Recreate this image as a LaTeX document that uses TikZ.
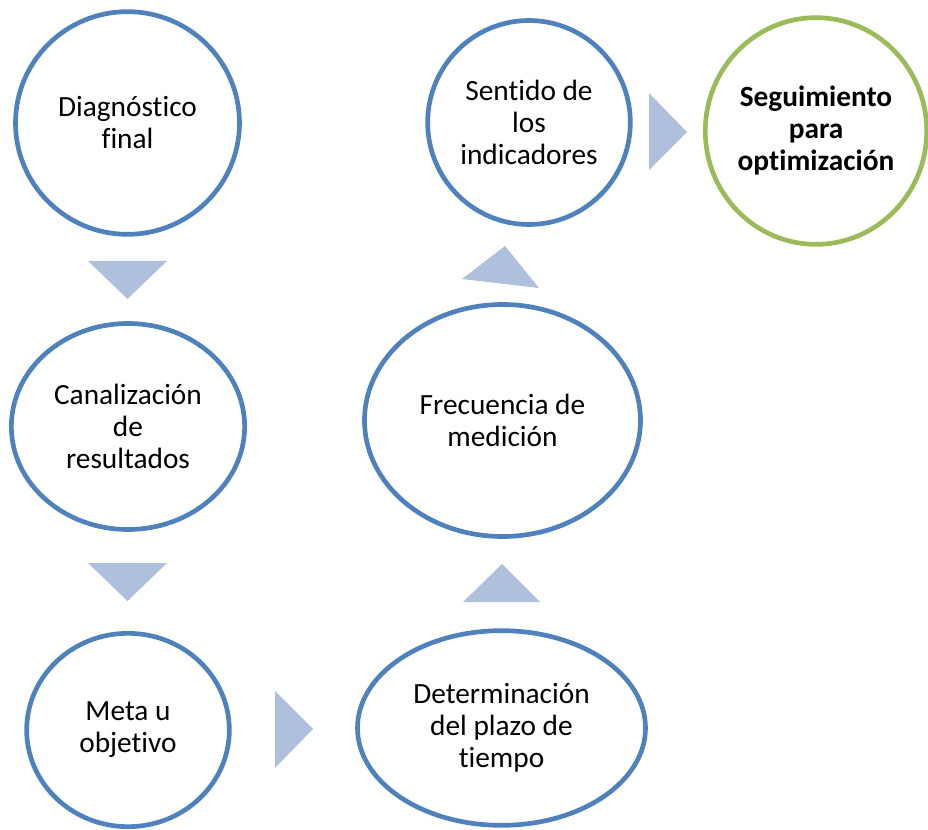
\documentclass[tikz,border=0pt]{standalone}
\usepackage{fontspec}
\setmainfont[Ligatures=NoCommon]{Carlito}
\usetikzlibrary{shapes.geometric}
\definecolor{ringblue}{HTML}{4F81BD}
\definecolor{ringgreen}{HTML}{9BBB59}
\definecolor{arrowfill}{HTML}{AFC0DC}
\tikzset{
  stage/.style={ellipse, draw=ringblue, line width=3.5pt, fill=white, align=center,
    inner sep=0pt, font=\fontsize{22}{24}\selectfont},
  goal/.style={stage, draw=ringgreen, font=\fontsize{22}{24}\selectfont\bfseries},
  pointer/.style={fill=arrowfill, draw=none}}

\begin{document}
\begin{tikzpicture}[x=0.75pt, y=-0.75pt]
  \useasboundingbox (0,0) rectangle (928,830);

  % the stages
  \node[stage, minimum width=168pt, minimum height=167pt]   (diag)  at (127.5,123)   {Diagnóstico\\final};
  \node[stage, minimum width=175pt, minimum height=154.5pt] (canal) at (128,426.5)   {Canalización\\de\\resultados};
  \node[stage, minimum width=152pt, minimum height=145pt]   (meta)  at (128,730)     {Meta u\\objetivo};
  \node[stage, minimum width=216pt, minimum height=146pt]   (plazo) at (501.5,728)   {Determinación\\del plazo de\\tiempo};
  \node[stage, minimum width=207pt, minimum height=174pt]   (frec)  at (502.5,420.5) {Frecuencia de\\medición};
  \node[stage, minimum width=152pt, minimum height=153pt]   (sent)  at (529,122.5)   {Sentido de\\los\\indicadores};
  \node[goal,  minimum width=166pt, minimum height=170pt]   (seg)   at (816,131)     {Seguimiento\\para\\optimización};

  % the pointers between them
  \fill[pointer] (88,261) -- (167,261) -- (127.5,299) -- cycle;
  \fill[pointer] (88,563) -- (167,563) -- (127.5,601) -- cycle;
  \fill[pointer] (275,691) -- (313,729) -- (275,768) -- cycle;
  \fill[pointer] (463,602) -- (540,602) -- (502,564) -- cycle;
  \fill[pointer] (462,279) -- (505,246) -- (539,288) -- cycle;
  \fill[pointer] (649,93) -- (687,132) -- (649,170) -- cycle;
\end{tikzpicture}
\end{document}
